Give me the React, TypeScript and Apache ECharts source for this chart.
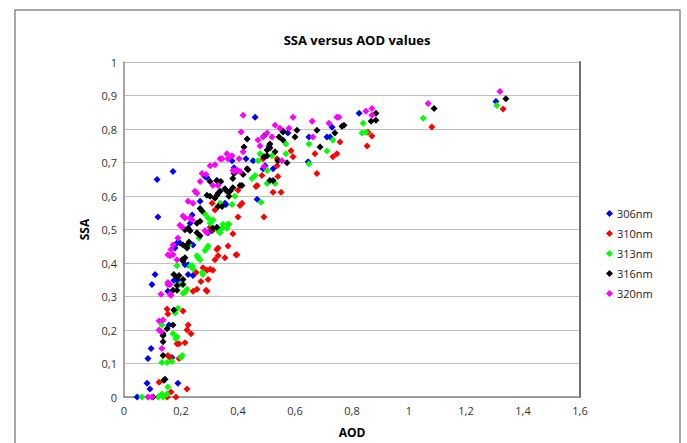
import React, { useEffect, useRef } from "react";
import * as echarts from "echarts";

const seriesNames = ["306nm", "310nm", "313nm", "316nm", "320nm"];
const seriesColors = ["#0000FF", "#FF0000", "#00FF00", "#000000", "#FF00FF"];

const xTicks = { min: 0, max: 1.6, interval: 0.2 };
const yTicks = { min: 0, max: 1, interval: 0.1 };

const blue306: number[][] = [
  [0.046, 0], [0.081, 0.041], [0.091, 0.024], [0.189, 0.041], [0.084, 0.115], [0.095, 0.145],
  [0.168, 0.118], [0.158, 0.215], [0.098, 0.336], [0.109, 0.366], [0.175, 0.348], [0.189, 0.348],
  [0.154, 0.316], [0.242, 0.363], [0.225, 0.366], [0.214, 0.395], [0.225, 0.395], [0.186, 0.46],
  [0.196, 0.46], [0.179, 0.445], [0.242, 0.454], [0.232, 0.519], [0.295, 0.49], [0.309, 0.496],
  [0.267, 0.584], [0.291, 0.655], [0.116, 0.649], [0.172, 0.673], [0.119, 0.537], [0.358, 0.575],
  [0.386, 0.684], [0.428, 0.711], [0.453, 0.705], [0.495, 0.69], [0.523, 0.681], [0.488, 0.681],
  [0.467, 0.59], [0.46, 0.835], [0.509, 0.749], [0.558, 0.794], [0.575, 0.788], [0.646, 0.702],
  [0.649, 0.776], [0.712, 0.776], [0.723, 0.776], [0.73, 0.805], [0.825, 0.847], [1.305, 0.882],
  [0.354, 0.578], [0.379, 0.705], [0.284, 0.658], [0.326, 0.646], [0.33, 0.608], [0.239, 0.543],
];

const red310: number[][] = [
  [0.151, 0], [0.182, 0], [0.123, 0.044], [0.165, 0.015], [0.221, 0.024], [0.154, 0.124],
  [0.161, 0.118], [0.193, 0.115], [0.214, 0.162], [0.186, 0.159], [0.193, 0.159], [0.225, 0.215],
  [0.221, 0.2], [0.235, 0.189], [0.151, 0.263], [0.154, 0.248], [0.207, 0.257], [0.27, 0.345],
  [0.295, 0.351], [0.256, 0.322], [0.242, 0.316], [0.288, 0.319], [0.291, 0.316], [0.253, 0.372],
  [0.277, 0.386], [0.291, 0.378], [0.302, 0.381], [0.312, 0.378], [0.326, 0.44], [0.33, 0.445],
  [0.354, 0.416], [0.396, 0.425], [0.319, 0.41], [0.33, 0.422], [0.302, 0.507], [0.312, 0.499],
  [0.382, 0.487], [0.309, 0.578], [0.319, 0.558], [0.467, 0.631], [0.365, 0.451], [0.393, 0.425],
  [0.414, 0.578], [0.407, 0.572], [0.4, 0.537], [0.491, 0.537], [0.484, 0.661], [0.488, 0.711],
  [0.495, 0.717], [0.463, 0.628], [0.523, 0.611], [0.551, 0.611], [0.54, 0.658], [0.537, 0.711],
  [0.537, 0.69], [0.586, 0.735], [0.593, 0.717], [0.67, 0.726], [0.677, 0.667], [0.733, 0.717],
  [0.747, 0.726], [0.758, 0.761], [0.856, 0.79], [0.87, 0.779], [0.853, 0.749], [1.08, 0.806],
  [1.33, 0.86], [0.4, 0.617],
];

const green313: number[][] = [
  [0.063, 0], [0.12, 0], [0.133, 0.009], [0.137, 0], [0.151, 0.009], [0.154, 0.03],
  [0.133, 0.103], [0.151, 0.103], [0.168, 0.106], [0.204, 0.124], [0.2, 0.118], [0.172, 0.189],
  [0.186, 0.18], [0.182, 0.174], [0.133, 0.215], [0.189, 0.265], [0.179, 0.251], [0.196, 0.336],
  [0.221, 0.322], [0.214, 0.313], [0.207, 0.31], [0.274, 0.372], [0.277, 0.366], [0.186, 0.392],
  [0.232, 0.392], [0.242, 0.383], [0.239, 0.392], [0.256, 0.422], [0.26, 0.416], [0.267, 0.41],
  [0.291, 0.445], [0.295, 0.451], [0.284, 0.437], [0.228, 0.454], [0.263, 0.475], [0.33, 0.496],
  [0.337, 0.49], [0.347, 0.516], [0.365, 0.516], [0.361, 0.504], [0.295, 0.534], [0.312, 0.528],
  [0.302, 0.519], [0.284, 0.546], [0.337, 0.578], [0.396, 0.673], [0.449, 0.652], [0.368, 0.516],
  [0.344, 0.504], [0.389, 0.599], [0.379, 0.575], [0.481, 0.581], [0.46, 0.661], [0.502, 0.637],
  [0.53, 0.637], [0.477, 0.726], [0.519, 0.72], [0.502, 0.676], [0.47, 0.705], [0.568, 0.755],
  [0.568, 0.726], [0.649, 0.755], [0.649, 0.696], [0.712, 0.734], [0.733, 0.767], [0.839, 0.817],
  [0.835, 0.788], [0.849, 0.79], [1.05, 0.832], [1.308, 0.87],
];

const black316: number[][] = [
  [0.102, 0], [0.144, 0.053], [0.14, 0.05], [0.137, 0.124], [0.137, 0.165], [0.137, 0.189],
  [0.137, 0.183], [0.172, 0.215], [0.151, 0.204], [0.175, 0.26], [0.172, 0.319], [0.186, 0.319],
  [0.186, 0.333], [0.207, 0.351], [0.207, 0.336], [0.175, 0.366], [0.193, 0.363], [0.186, 0.357],
  [0.204, 0.41], [0.207, 0.407], [0.214, 0.416], [0.207, 0.454], [0.221, 0.454], [0.221, 0.445],
  [0.228, 0.463], [0.214, 0.499], [0.225, 0.504], [0.232, 0.496], [0.256, 0.519], [0.267, 0.525],
  [0.312, 0.504], [0.326, 0.507], [0.256, 0.49], [0.267, 0.481], [0.267, 0.563], [0.274, 0.555],
  [0.33, 0.569], [0.344, 0.569], [0.291, 0.602], [0.302, 0.599], [0.319, 0.593], [0.326, 0.602],
  [0.34, 0.643], [0.354, 0.622], [0.372, 0.614], [0.337, 0.614], [0.302, 0.643], [0.326, 0.646],
  [0.382, 0.652], [0.386, 0.667], [0.432, 0.681], [0.418, 0.664], [0.407, 0.631], [0.414, 0.631],
  [0.361, 0.614], [0.368, 0.599], [0.382, 0.625], [0.421, 0.746], [0.435, 0.678], [0.491, 0.717],
  [0.502, 0.72], [0.512, 0.755], [0.502, 0.737], [0.512, 0.743], [0.53, 0.732], [0.54, 0.705],
  [0.572, 0.699], [0.512, 0.646], [0.523, 0.646], [0.491, 0.779], [0.432, 0.77], [0.544, 0.776],
  [0.558, 0.767], [0.558, 0.791], [0.607, 0.796], [0.6, 0.776], [0.677, 0.796], [0.688, 0.746],
  [0.74, 0.788], [0.765, 0.808], [0.772, 0.811], [0.867, 0.823], [0.884, 0.826], [0.884, 0.847],
  [1.088, 0.861], [1.34, 0.89],
];

const magenta320: number[][] = [
  [0.084, 0], [0.098, 0], [0.133, 0.145], [0.123, 0.2], [0.13, 0.195], [0.137, 0.23],
  [0.123, 0.227], [0.154, 0.336], [0.13, 0.307], [0.161, 0.307], [0.165, 0.304], [0.154, 0.342],
  [0.161, 0.336], [0.154, 0.425], [0.161, 0.422], [0.172, 0.425], [0.186, 0.41], [0.172, 0.454],
  [0.165, 0.44], [0.189, 0.475], [0.196, 0.513], [0.204, 0.507], [0.207, 0.54], [0.214, 0.534],
  [0.232, 0.534], [0.239, 0.528], [0.284, 0.496], [0.291, 0.49], [0.225, 0.584], [0.242, 0.578],
  [0.249, 0.614], [0.256, 0.608], [0.267, 0.643], [0.312, 0.631], [0.33, 0.631], [0.274, 0.667],
  [0.288, 0.664], [0.302, 0.69], [0.319, 0.693], [0.337, 0.711], [0.365, 0.711], [0.379, 0.72],
  [0.382, 0.676], [0.396, 0.678], [0.407, 0.673], [0.418, 0.841], [0.411, 0.791], [0.361, 0.726],
  [0.344, 0.711], [0.404, 0.711], [0.418, 0.732], [0.389, 0.673], [0.47, 0.767], [0.477, 0.749],
  [0.488, 0.776], [0.502, 0.788], [0.519, 0.776], [0.53, 0.811], [0.547, 0.802], [0.579, 0.802],
  [0.593, 0.835], [0.491, 0.687], [0.554, 0.705], [0.66, 0.823], [0.663, 0.776], [0.719, 0.817],
  [0.747, 0.835], [0.754, 0.835], [0.849, 0.853], [0.87, 0.861], [0.87, 0.841], [1.067, 0.876],
  [1.319, 0.912],
];

const seriesData = [blue306, red310, green313, black316, magenta320];

const FONT = "'Open Sans', 'Noto Sans', sans-serif";
const fmt = (v: number) => String(+v.toFixed(1)).replace(".", ",");

export default function App() {
  const ref = useRef<HTMLDivElement>(null);
  useEffect(() => {
    if (!ref.current) return;
    const chart = echarts.init(ref.current, null, { renderer: "svg" });
    chart.setOption({
      animation: false,
      backgroundColor: "#ffffff",
      textStyle: { fontFamily: FONT },
      title: {
        text: "SSA versus AOD values",
        left: 352,
        top: 28,
        textAlign: "center",
        textStyle: { fontFamily: FONT, fontSize: 13, fontWeight: "bold", color: "#000" },
      },
      graphic: [
        {
          type: "rect",
          shape: { x: 15, y: 10, width: 665, height: 470 },
          style: { fill: "none", stroke: "#8a8a8a", lineWidth: 1.5 },
          silent: true,
        },
      ],
      legend: {
        orient: "vertical",
        left: 601,
        top: 203,
        itemGap: 9,
        itemWidth: 7,
        itemHeight: 7,
        icon: "diamond",
        data: seriesNames,
        textStyle: { fontFamily: FONT, fontSize: 11, color: "#222", padding: [0, 0, 0, -1] },
      },
      grid: { left: 124, right: 107, top: 62, bottom: 35, containLabel: false },
      xAxis: {
        type: "value",
        min: xTicks.min,
        max: xTicks.max,
        interval: xTicks.interval,
        name: "AOD",
        nameLocation: "middle",
        nameGap: 29,
        nameTextStyle: { fontFamily: FONT, fontSize: 12, fontWeight: "bold", color: "#000" },
        axisLine: { show: true, lineStyle: { color: "#868686", width: 1.5 } },
        axisTick: { show: false },
        splitLine: { show: false },
        axisLabel: { formatter: fmt, fontFamily: FONT, fontSize: 11, color: "#333", margin: 8 },
      },
      yAxis: [
        {
          type: "value",
          min: yTicks.min,
          max: yTicks.max,
          interval: yTicks.interval,
          name: "SSA",
          nameLocation: "middle",
          nameGap: 30,
          nameRotate: 90,
          nameTextStyle: { fontFamily: FONT, fontSize: 12, fontWeight: "bold", color: "#000" },
          axisLine: { show: true, lineStyle: { color: "#868686", width: 1.5 } },
          axisTick: { show: false },
          splitLine: { show: true, lineStyle: { color: "#c0c0c0", width: 1.2 } },
          axisLabel: { formatter: fmt, fontFamily: FONT, fontSize: 11, color: "#333", margin: 7 },
        },
        {
          type: "value",
          position: "right",
          min: yTicks.min,
          max: yTicks.max,
          interval: yTicks.interval,
          axisLine: { show: true, lineStyle: { color: "#6e6e6e", width: 2 } },
          axisTick: { show: false },
          axisLabel: { show: false },
          splitLine: { show: false },
        },
      ],
      series: seriesNames.map((name, i) => ({
        name,
        type: "scatter",
        symbol: "diamond",
        symbolSize: 7,
        itemStyle: { color: seriesColors[i], opacity: 1 },
        data: seriesData[i],
        yAxisIndex: 0,
      })),
    });
    return () => chart.dispose();
  }, []);
  return (
    <div
      ref={ref}
      style={{ position: "fixed", left: 0, top: 0, width: 687, height: 443 }}
    />
  );
}
